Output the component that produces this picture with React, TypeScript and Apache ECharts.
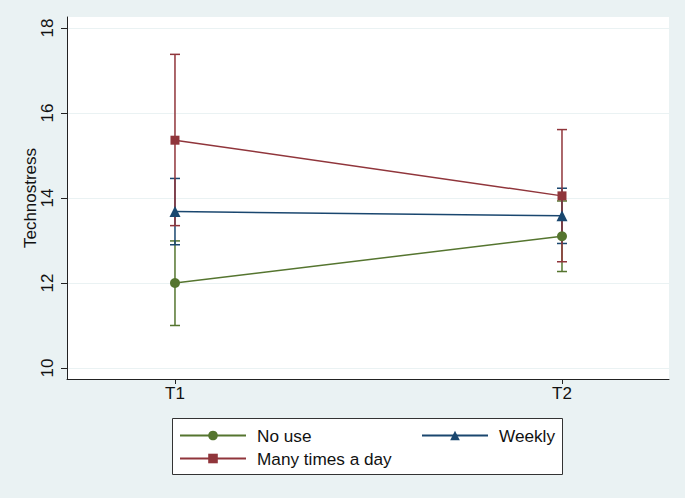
import React, { useEffect, useRef } from 'react';
import * as echarts from 'echarts';

const timePoints = [1, 2];
const timeLabels = ['T1', 'T2'];
const yTicks = [10, 12, 14, 16, 18];

const seriesNames = ['No use', 'Weekly', 'Many times a day'];
const noUseMean = [12.0, 13.1];
const noUseLow = [11.0, 12.27];
const noUseHigh = [12.99, 13.93];
const weeklyMean = [13.68, 13.58];
const weeklyLow = [12.9, 12.93];
const weeklyHigh = [14.46, 14.23];
const manyMean = [15.36, 14.05];
const manyLow = [13.35, 12.5];
const manyHigh = [17.38, 15.61];

const colors = ['#55752f', '#1a476f', '#90353b'];
const symbols = ['circle', 'triangle', 'rect'];
const symbolSizes = [10, 11, 9];

const FONT = '"Liberation Sans", Arial, Helvetica, sans-serif';

export default function App() {
  const ref = useRef<HTMLDivElement>(null);
  useEffect(() => {
    if (!ref.current) return;
    document.body.style.margin = '0';
    const chart = echarts.init(ref.current, null, { renderer: 'svg' });
    const means = [noUseMean, weeklyMean, manyMean];
    const lows = [noUseLow, weeklyLow, manyLow];
    const highs = [noUseHigh, weeklyHigh, manyHigh];

    const errorSeries = seriesNames.map((name, i) => ({
      type: 'custom',
      name: name + ' CI',
      z: 2,
      silent: true,
      data: timePoints.map((t, j) => [t, lows[i][j], highs[i][j]]),
      renderItem: (params: any, api: any) => {
        const x = api.value(0);
        const lo = api.coord([x, api.value(1)]);
        const hi = api.coord([x, api.value(2)]);
        const hw = 5;
        const style = { stroke: colors[i], lineWidth: 1.5, fill: 'none' };
        return {
          type: 'group',
          children: [
            { type: 'line', shape: { x1: lo[0], y1: lo[1], x2: hi[0], y2: hi[1] }, style },
            { type: 'line', shape: { x1: lo[0] - hw, y1: lo[1], x2: lo[0] + hw, y2: lo[1] }, style },
            { type: 'line', shape: { x1: hi[0] - hw, y1: hi[1], x2: hi[0] + hw, y2: hi[1] }, style },
          ],
        };
      },
    }));

    const lineSeries = seriesNames.map((name, i) => ({
      type: 'line',
      name,
      z: 3,
      data: timePoints.map((t, j) => [t, means[i][j]]),
      symbol: symbols[i],
      symbolSize: symbolSizes[i],
      showSymbol: true,
      lineStyle: { color: colors[i], width: 1.5 },
      itemStyle: { color: colors[i] },
    }));

    const legendCommon = {
      orient: 'horizontal',
      itemWidth: 66,
      itemHeight: 12,
      padding: 0,
      selectedMode: false,
      textStyle: { fontFamily: FONT, fontSize: 17.2, color: '#111', padding: [0, 0, 0, 6] },
    };

    chart.setOption({
      animation: false,
      backgroundColor: '#eaf2f3',
      textStyle: { fontFamily: FONT },
      grid: {
        left: 67,
        top: 17,
        right: 16,
        bottom: 119,
        show: true,
        backgroundColor: '#ffffff',
        borderWidth: 0,
      },
      xAxis: {
        type: 'value',
        min: 0.721,
        max: 2.2765,
        axisLine: { show: true, lineStyle: { color: '#222', width: 1 } },
        axisTick: { show: true, length: 5, customValues: timePoints, lineStyle: { color: '#222' } },
        axisLabel: {
          customValues: timePoints,
          formatter: (v: number) => timeLabels[timePoints.indexOf(v)] ?? '',
          fontFamily: FONT,
          fontSize: 17,
          color: '#111',
          margin: 6,
        },
        splitLine: { show: false },
      },
      yAxis: {
        type: 'value',
        min: 9.741,
        max: 18.259,
        name: 'Technostress',
        nameLocation: 'middle',
        nameRotate: 90,
        nameGap: 28,
        nameMoveOverlap: false,
        nameTextStyle: { fontFamily: FONT, fontSize: 17, color: '#111' },
        axisLine: { show: true, lineStyle: { color: '#222', width: 1 } },
        axisTick: { show: true, length: 6, customValues: yTicks, lineStyle: { color: '#222' } },
        axisLabel: {
          customValues: yTicks,
          rotate: 90,
          fontFamily: FONT,
          fontSize: 17,
          color: '#111',
          margin: 11,
        },
        splitLine: { show: true, lineStyle: { color: '#eaf2f3', width: 1 } },
      },
      legend: [
        { ...legendCommon, data: [seriesNames[0]], left: 179, top: 427 },
        { ...legendCommon, data: [seriesNames[1]], left: 421, top: 427 },
        { ...legendCommon, data: [seriesNames[2]], left: 179, top: 450 },
      ],
      graphic: [
        {
          type: 'rect',
          z: -1,
          shape: { x: 172.5, y: 418.5, width: 390, height: 56 },
          style: { fill: '#ffffff', stroke: '#333', lineWidth: 1 },
        },
      ],
      series: [...errorSeries, ...lineSeries],
    });
    return () => chart.dispose();
  }, []);
  return <div ref={ref} style={{ position: 'absolute', left: 0, top: 0, width: 685, height: 498 }} />;
}
